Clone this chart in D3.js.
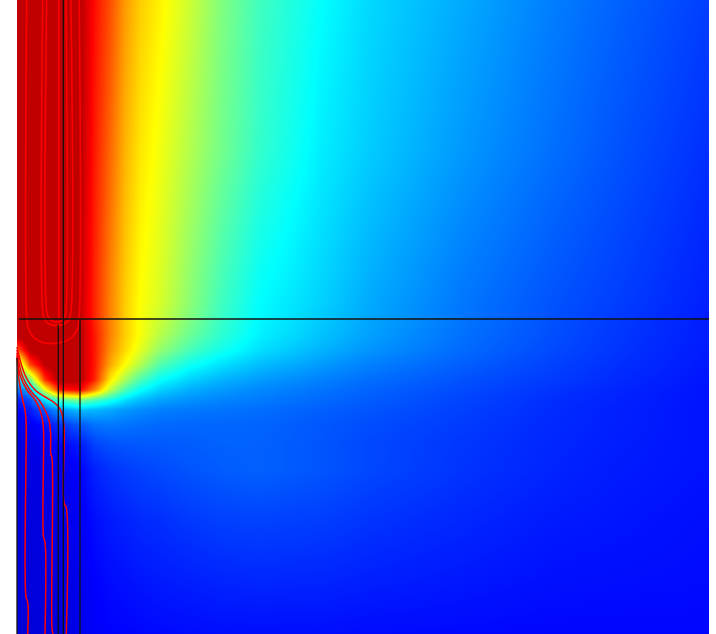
<!DOCTYPE html>
<html>
<head>
<meta charset="utf-8">
<script src="https://cdn.jsdelivr.net/npm/d3@7"></script>
<style>
  body { margin: 0; background: #fff; }
  #chart { position: relative; width: 716px; height: 634px; }
  #chart canvas, #chart svg { position: absolute; left: 0; top: 0; }
</style>
</head>
<body>
<div id="chart"></div>
<script>
const xNodes = [0, 13, 28, 43, 63, 78, 93, 108, 123, 143, 173, 205, 243, 306, 353, 445, 533, 603, 692];
const yNodes = [0, 150, 300, 319, 335, 350, 365, 380, 390, 400, 410, 425, 445, 470, 520, 580, 634];

// field value at each node, one row per yNode
const field = [
  [3.4, 3.4, 3.4, 3.4, 3.3, 2.95, 2.7, 2.4, 2.2, 2.05, 1.8, 1.5, 1.25, 1.0, 0.85, 0.67, 0.5, 0.38, 0.24],
  [3.4, 3.4, 3.4, 3.4, 3.3, 2.9, 2.6, 2.3, 2.1, 1.95, 1.7, 1.45, 1.2, 0.93, 0.8, 0.6, 0.44, 0.32, 0.18],
  [3.4, 3.4, 3.4, 3.4, 3.25, 2.85, 2.5, 2.2, 2.0, 1.85, 1.55, 1.25, 1.0, 0.82, 0.67, 0.47, 0.33, 0.24, 0.12],
  [3.4, 3.4, 3.4, 3.4, 3.25, 2.85, 2.5, 2.2, 1.98, 1.8, 1.5, 1.22, 0.98, 0.79, 0.65, 0.46, 0.32, 0.22, 0.11],
  [3.4, 3.4, 3.4, 3.4, 3.3, 2.9, 2.5, 2.2, 1.98, 1.72, 1.42, 1.17, 0.95, 0.76, 0.63, 0.44, 0.31, 0.21, 0.11],
  [2.6, 3.3, 3.4, 3.4, 3.3, 2.9, 2.45, 2.15, 1.9, 1.58, 1.28, 1.07, 0.88, 0.7, 0.58, 0.42, 0.29, 0.2, 0.1],
  [1.3, 2.7, 3.25, 3.4, 3.3, 2.9, 2.35, 2.0, 1.7, 1.32, 1.05, 0.88, 0.74, 0.6, 0.5, 0.37, 0.26, 0.18, 0.09],
  [0.7, 1.4, 2.8, 3.35, 3.3, 2.85, 2.1, 1.65, 1.3, 1.02, 0.82, 0.7, 0.61, 0.5, 0.43, 0.32, 0.23, 0.16, 0.08],
  [0.4, 0.7, 1.9, 2.9, 3.0, 2.45, 1.75, 1.3, 1.02, 0.82, 0.68, 0.6, 0.53, 0.45, 0.39, 0.29, 0.2, 0.14, 0.07],
  [0.1, 0.3, 0.9, 1.3, 1.5, 1.3, 1.1, 0.88, 0.74, 0.64, 0.57, 0.52, 0.48, 0.41, 0.36, 0.27, 0.18, 0.13, 0.07],
  [0.0, 0.1, 0.35, 0.6, 0.75, 0.72, 0.66, 0.6, 0.55, 0.5, 0.47, 0.45, 0.43, 0.37, 0.33, 0.25, 0.17, 0.12, 0.07],
  [-0.08, -0.05, 0.05, 0.2, 0.35, 0.45, 0.47, 0.45, 0.43, 0.41, 0.4, 0.4, 0.39, 0.34, 0.3, 0.23, 0.16, 0.12, 0.07],
  [-0.12, -0.1, -0.05, 0.0, 0.1, 0.25, 0.31, 0.33, 0.34, 0.35, 0.36, 0.38, 0.38, 0.33, 0.28, 0.21, 0.15, 0.11, 0.07],
  [-0.12, -0.12, -0.1, -0.08, 0.0, 0.13, 0.19, 0.23, 0.26, 0.29, 0.33, 0.36, 0.38, 0.33, 0.28, 0.2, 0.14, 0.1, 0.07],
  [-0.13, -0.13, -0.12, -0.1, -0.04, 0.05, 0.1, 0.13, 0.16, 0.18, 0.22, 0.25, 0.26, 0.24, 0.2, 0.15, 0.1, 0.08, 0.05],
  [-0.14, -0.14, -0.13, -0.12, -0.07, 0.0, 0.04, 0.06, 0.08, 0.1, 0.12, 0.14, 0.15, 0.14, 0.12, 0.09, 0.06, 0.05, 0.04],
  [-0.15, -0.15, -0.14, -0.13, -0.08, -0.02, 0.0, 0.01, 0.02, 0.03, 0.04, 0.05, 0.05, 0.05, 0.04, 0.03, 0.02, 0.02, 0.02]
];

// jet-like colour stops
const colorStops = [-0.5, 0, 1, 2, 3, 3.25];
const colorRange = ["#000080", "#0000ff", "#00ffff", "#ffff00", "#ff0000", "#c00000"];

// red contour lines (mm)
const outerU = [[9.7,0],[9.7,316],[11.5,329],[18,338.5],[28,343],[36,343.5],[44,342.5],[54,338],[60.5,329],[62.3,316],[62.3,0]];
const middleU = [[25.7,0],[25.7,311],[27.5,319.5],[32,324],[39.5,325.5],[47,324],[52,319.5],[54,311],[54,0]];
const innerU = [[29.7,0],[29.7,311],[31.5,317.5],[35.5,321],[40,322],[44,321],[47.5,317.5],[49,311],[49,0]];
const redStem = [[41.7,0],[41.7,319]];
const lowContours = [
  [[0,356],[2,380],[5.7,400],[8,410],[9,420],[9,597],[10.7,602],[10.7,634]],
  [[0,353],[3,375],[10,390],[18,400],[23,410],[25.5,420],[26.5,430],[26.5,537],[28,542],[28,634]],
  [[0,350],[5,375],[13,390],[22,400],[28,410],[32,420],[33.7,435],[33.7,453],[35,458],[35,628],[36,634]],
  [[0,347],[8,375],[18,390],[28,397],[35,401],[41,406],[44.7,413],[47,427],[47,503],[49.3,508],[49.3,634]]
];

// black geometry edges (mm)
const edges = [
  [[2,319],[692,319]],
  [[46.3,0],[46.3,634]],
  [[41.3,325],[41.3,634]],
  [[63,319],[63,634]],
  [[0,358],[0,634]]
];

const W = 716, H = 634;
const left = 17, plotW = 692;

const x = d3.scaleLinear().domain([0, 692]).range([left, left + plotW]);
const y = d3.scaleLinear().domain([0, 634]).range([0, H]);
const color = d3.scaleLinear().domain(colorStops).range(colorRange).clamp(true);

const container = d3.select("#chart");

// heat map on a canvas
const canvas = container.append("canvas")
    .attr("width", plotW)
    .attr("height", H)
    .style("left", left + "px");
const ctx = canvas.node().getContext("2d");
const img = ctx.createImageData(plotW, H);

const lutN = 2048, lo = colorStops[0], hi = colorStops[colorStops.length - 1];
const lut = d3.range(lutN).map(k => d3.rgb(color(lo + (hi - lo) * k / (lutN - 1))));

function cell(nodes, v) {
  let i = d3.bisectRight(nodes, v) - 1;
  i = Math.max(0, Math.min(nodes.length - 2, i));
  const t = Math.max(0, Math.min(1, (v - nodes[i]) / (nodes[i + 1] - nodes[i])));
  return [i, t];
}

const cols = d3.range(plotW).map(px => cell(xNodes, x.invert(left + px + 0.5)));
for (let py = 0; py < H; py++) {
  const [j, u] = cell(yNodes, y.invert(py + 0.5));
  const r0 = field[j], r1 = field[j + 1];
  for (let px = 0; px < plotW; px++) {
    const [i, t] = cols[px];
    const v = (r0[i] * (1 - t) + r0[i + 1] * t) * (1 - u) + (r1[i] * (1 - t) + r1[i + 1] * t) * u;
    let k = Math.round((v - lo) / (hi - lo) * (lutN - 1));
    k = Math.max(0, Math.min(lutN - 1, k));
    const c = lut[k], o = (py * plotW + px) * 4;
    img.data[o] = c.r; img.data[o + 1] = c.g; img.data[o + 2] = c.b; img.data[o + 3] = 255;
  }
}
ctx.putImageData(img, 0, 0);

// lines on top
const svg = container.append("svg")
    .attr("width", W)
    .attr("height", H);

const line = d3.line()
    .x(d => x(d[0]))
    .y(d => y(d[1]))
    .curve(d3.curveCatmullRom.alpha(0.5));

svg.selectAll("path.contour")
  .data([outerU, middleU, innerU, redStem].concat(lowContours))
  .join("path")
    .attr("class", "contour")
    .attr("d", line)
    .attr("fill", "none")
    .attr("stroke", "#ff0000")
    .attr("stroke-width", 1.5);

svg.selectAll("path.edge")
  .data(edges)
  .join("path")
    .attr("class", "edge")
    .attr("d", d3.line().x(d => x(d[0])).y(d => y(d[1])))
    .attr("fill", "none")
    .attr("stroke", "#111")
    .attr("stroke-width", 1.3);
</script>
</body>
</html>
